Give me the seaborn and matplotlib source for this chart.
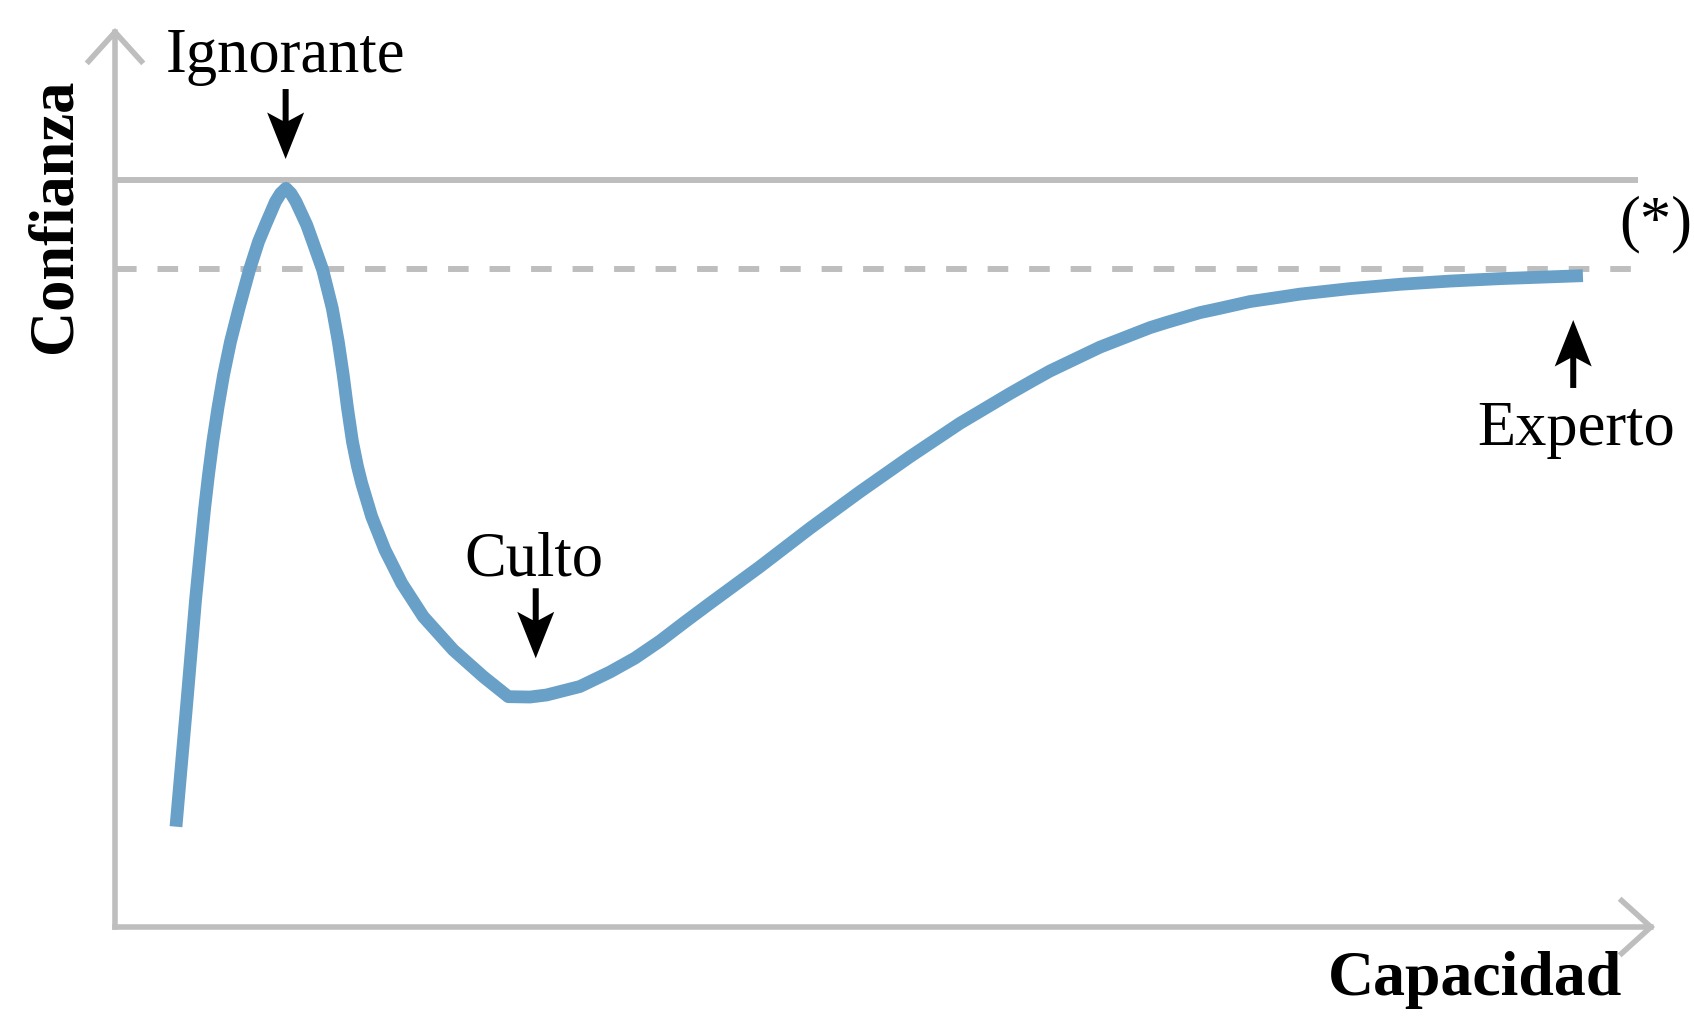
import numpy as np
import pandas as pd
import seaborn as sns
import matplotlib.pyplot as plt

# curve (capacidad 0-100 -> confianza 0-100)
capacidad = [3.96, 4.68, 5.23, 5.41, 5.60, 5.82, 6.07, 6.35, 6.68, 7.05, 7.50, 8.05,
             8.73, 9.32, 9.77, 10.42, 10.75, 11.10,
             11.43, 11.75, 12.45, 12.84, 13.49, 14.11, 14.50, 14.82, 15.10, 15.42, 15.75,
             16.02, 16.67, 17.53, 18.62, 20.02, 21.97, 23.92, 25.54,
             26.95, 28.03, 30.19, 32.14, 33.77, 35.39, 37.01, 38.64, 41.88, 45.13, 48.38,
             51.62, 54.87, 58.12, 59.61, 60.71, 63.96, 67.21, 68.29, 70.45, 71.54, 73.70,
             75.84, 76.95, 80.19, 83.44, 86.69, 89.94, 95.32]
confianza = [11.16, 25.25, 36.37, 39.52, 42.86, 46.57, 50.28, 53.98, 57.70, 61.40, 65.11, 68.82,
             73.08, 76.23, 78.09, 80.68, 81.59, 82.17,
             81.59, 80.68, 78.09, 76.23, 73.08, 68.82, 65.11, 61.40, 57.70, 53.98, 51.20,
             49.35, 45.64, 41.94, 38.23, 34.52, 30.81, 27.84, 25.62,
             25.58, 25.81, 26.75, 28.36, 29.92, 31.81, 33.93, 36.01, 40.08, 44.35, 48.42,
             52.31, 56.03, 59.34, 60.79, 61.84, 64.50, 66.67, 67.25, 68.34, 68.74, 69.57,
             70.11, 70.40, 71.01, 71.49, 71.85, 72.12, 72.45]

nivel_ignorante = 83.09   # solid reference line
nivel_experto = 73.19     # dashed reference line

etiquetas = ['Ignorante', 'Culto', 'Experto']
etiqueta_x = [11.08, 27.17, 94.91]
etiqueta_y = [95.14, 39.15, 53.62]
flecha_x = [11.08, 27.32, 94.69]
flecha_desde = [93.21, 37.68, 59.96]
flecha_hasta = [85.43, 29.89, 67.52]

df = pd.DataFrame({'Capacidad': capacidad, 'Confianza': confianza})

sns.set_theme(style="white")
plt.rcParams['font.family'] = ['Liberation Serif', 'DejaVu Serif']
plt.rcParams['text.color'] = 'black'

gris = '#bebebe'
azul = '#68a0c8'
px_x, px_y = 15.4, 8.99   # pixels per data unit
xlim = (-115/px_x, (1694-115)/px_x)
ylim = ((927-1024)/px_y, 927/px_y)

fig = plt.figure(figsize=(16.94, 10.24), dpi=100)
ax = fig.add_axes([0, 0, 1, 1])

# axes with open arrow heads
for tip in [(100, 0), (0, 100)]:
    ax.annotate('', xy=tip, xytext=(0, 0),
                arrowprops=dict(arrowstyle='->,head_length=2.1,head_width=1.9', mutation_scale=10,
                                lw=4.0, color=gris, shrinkA=0, shrinkB=0,
                                capstyle='projecting', joinstyle='miter'))

ax.plot([0, 98.9], [nivel_ignorante]*2, color=gris, lw=4.3, solid_capstyle='butt')
ax.plot([0.05, 98.9], [nivel_experto]*2, color=gris, lw=4.3, dashes=(3.45, 3.5), dash_capstyle='butt')

sns.lineplot(data=df, x='Capacidad', y='Confianza', sort=False, color=azul, linewidth=9.2,
             solid_capstyle='butt', solid_joinstyle='round', ax=ax)
ax.set_xlim(*xlim)
ax.set_ylim(*ylim)
ax.axis('off')

for lab, tx, ty, fx, f0, f1 in zip(etiquetas, etiqueta_x, etiqueta_y, flecha_x, flecha_desde, flecha_hasta):
    ax.text(tx, ty, lab, fontsize=45, ha='center', va='baseline')
    ax.arrow(fx, f0, 0, f1 - f0, width=6/px_x, head_width=37/px_x, head_length=46.5/px_y,
             overhang=0.18, length_includes_head=True, color='black', lw=0)

ax.text(100.06, 76.53, '(*)', fontsize=45, ha='center', va='baseline')
ax.text(88.31, -7.56, 'Capacidad', fontsize=46, fontweight='bold', ha='center', va='baseline')
ax.text(-2.88, 79.1, 'Confianza', fontsize=45, fontweight='bold', rotation=90,
        rotation_mode='anchor', ha='center', va='baseline')

plt.savefig('out.png', dpi=100)
